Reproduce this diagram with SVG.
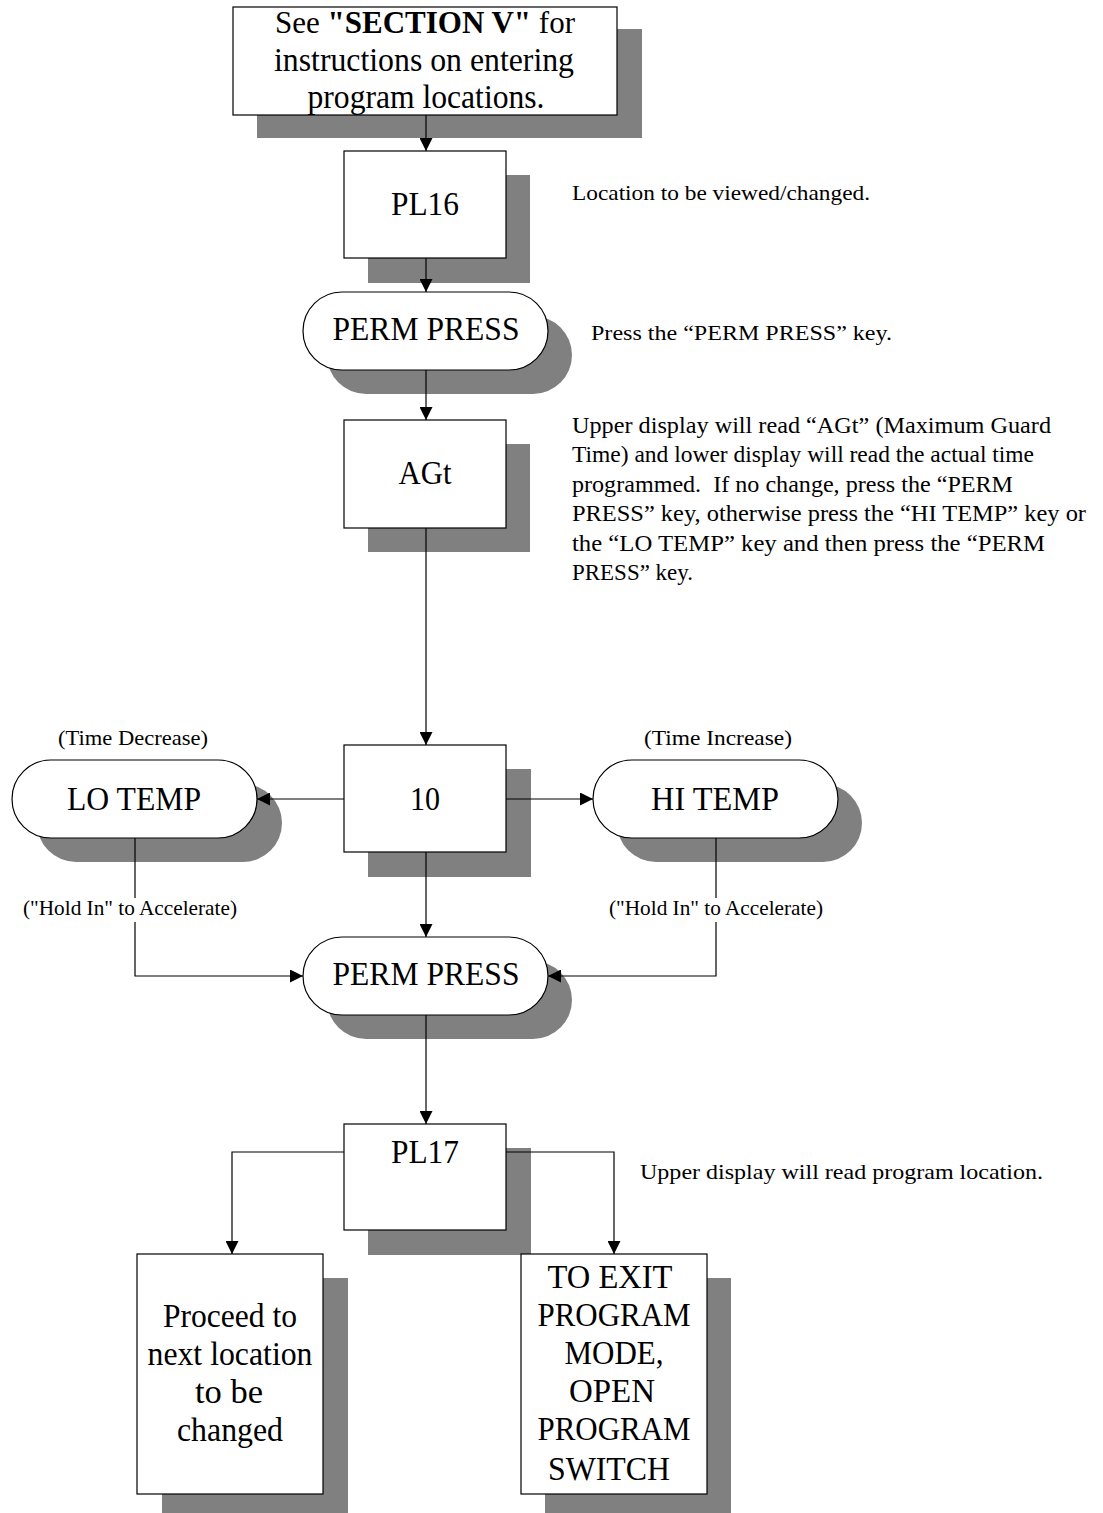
<svg xmlns="http://www.w3.org/2000/svg" width="1103" height="1513" viewBox="0 0 1103 1513">
<style>
.sh{fill:#808080;stroke:none}
.nd{fill:#fff;stroke:#000;stroke-width:1.2}
.t{font-family:"Liberation Serif","Times New Roman",serif;fill:#000}
.big{font-size:33px;text-anchor:middle}
.note{font-size:22px}
.para{font-size:24px}
.lbl{font-size:22px;text-anchor:middle}
.c{fill:none;stroke:#000;stroke-width:1.2}
</style>
<defs>
<marker id="ah" viewBox="0 0 13 13" refX="13" refY="6.5" markerWidth="13" markerHeight="13" markerUnits="userSpaceOnUse" orient="auto">
<path d="M0,0 L13,6.5 L0,13 Z" fill="#000"/>
</marker>
</defs>
<rect width="1103" height="1513" fill="#fff"/>

<g id="n-section">
<rect class="sh" x="257" y="29" width="385" height="109"/>
<rect class="nd" x="233" y="7" width="384" height="108"/>
<text class="t" x="425" y="33" font-size="31" text-anchor="middle">See <tspan font-weight="bold">"SECTION V"</tspan> for</text>
<text class="t big" x="424" y="71" textLength="300" lengthAdjust="spacingAndGlyphs">instructions on entering</text>
<text class="t big" x="426" y="108" textLength="237" lengthAdjust="spacingAndGlyphs">program locations.</text>
</g>

<g id="n-pl16">
<rect class="sh" x="368" y="175" width="162" height="108"/>
<rect class="nd" x="344" y="151" width="162" height="107"/>
<text class="t big" x="425" y="215" textLength="68" lengthAdjust="spacingAndGlyphs">PL16</text>
</g>
<text class="t note" x="572" y="200" textLength="298" lengthAdjust="spacingAndGlyphs">Location to be viewed/changed.</text>

<g id="n-perm1">
<rect class="sh" x="327" y="316" width="245" height="78" rx="39"/>
<rect class="nd" x="303" y="292" width="245" height="78" rx="39"/>
<text class="t big" x="426" y="340" textLength="187" lengthAdjust="spacingAndGlyphs">PERM PRESS</text>
</g>
<text class="t note" x="591" y="340" textLength="301" lengthAdjust="spacingAndGlyphs">Press the “PERM PRESS” key.</text>

<g id="n-agt">
<rect class="sh" x="368" y="444" width="162" height="108"/>
<rect class="nd" x="344" y="420" width="162" height="108"/>
<text class="t big" x="425" y="484" textLength="53" lengthAdjust="spacingAndGlyphs">AGt</text>
</g>
<g id="note-agt">
<text class="t para" x="572" y="433" textLength="479" lengthAdjust="spacingAndGlyphs">Upper display will read “AGt” (Maximum Guard</text>
<text class="t para" x="572" y="462" textLength="462" lengthAdjust="spacingAndGlyphs">Time) and lower display will read the actual time</text>
<text class="t para" x="572" y="492" textLength="441" lengthAdjust="spacingAndGlyphs" xml:space="preserve">programmed.  If no change, press the “PERM</text>
<text class="t para" x="572" y="521" textLength="514" lengthAdjust="spacingAndGlyphs">PRESS” key, otherwise press the “HI TEMP” key or</text>
<text class="t para" x="572" y="551" textLength="473" lengthAdjust="spacingAndGlyphs">the “LO TEMP” key and then press the “PERM</text>
<text class="t para" x="572" y="580" textLength="121" lengthAdjust="spacingAndGlyphs">PRESS” key.</text>
</g>

<g id="n-10">
<rect class="sh" x="368" y="769" width="163" height="108"/>
<rect class="nd" x="344" y="745" width="162" height="107"/>
<text class="t big" x="425" y="810" textLength="30" lengthAdjust="spacingAndGlyphs">10</text>
</g>

<g id="n-lotemp">
<rect class="sh" x="37" y="784" width="245" height="78" rx="39"/>
<rect class="nd" x="12" y="760" width="245" height="78" rx="39"/>
<text class="t big" x="134" y="810" textLength="134" lengthAdjust="spacingAndGlyphs">LO TEMP</text>
</g>
<text class="t lbl" x="133" y="745" textLength="150" lengthAdjust="spacingAndGlyphs">(Time Decrease)</text>
<text class="t lbl" x="130" y="915" textLength="214" lengthAdjust="spacingAndGlyphs">("Hold In" to Accelerate)</text>

<g id="n-hitemp">
<rect class="sh" x="617" y="784" width="245" height="78" rx="39"/>
<rect class="nd" x="593" y="760" width="245" height="78" rx="39"/>
<text class="t big" x="715" y="810" textLength="128" lengthAdjust="spacingAndGlyphs">HI TEMP</text>
</g>
<text class="t lbl" x="718" y="745" textLength="148" lengthAdjust="spacingAndGlyphs">(Time Increase)</text>
<text class="t lbl" x="716" y="915" textLength="214" lengthAdjust="spacingAndGlyphs">("Hold In" to Accelerate)</text>

<g id="n-perm2">
<rect class="sh" x="327" y="961" width="245" height="78" rx="39"/>
<rect class="nd" x="303" y="937" width="245" height="78" rx="39"/>
<text class="t big" x="426" y="985" textLength="187" lengthAdjust="spacingAndGlyphs">PERM PRESS</text>
</g>

<g id="n-pl17">
<rect class="sh" x="368" y="1148" width="163" height="107"/>
<rect class="nd" x="344" y="1124" width="162" height="106"/>
<text class="t big" x="425" y="1163" textLength="68" lengthAdjust="spacingAndGlyphs">PL17</text>
</g>
<text class="t note" x="640" y="1179" textLength="403" lengthAdjust="spacingAndGlyphs">Upper display will read program location.</text>

<g id="n-proceed">
<rect class="sh" x="162" y="1278" width="186" height="240"/>
<rect class="nd" x="137" y="1254" width="186" height="240"/>
<text class="t big" x="230" y="1327" textLength="134" lengthAdjust="spacingAndGlyphs">Proceed to</text>
<text class="t big" x="230" y="1365" textLength="165" lengthAdjust="spacingAndGlyphs">next location</text>
<text class="t big" x="229" y="1403" textLength="68" lengthAdjust="spacingAndGlyphs">to be</text>
<text class="t big" x="230" y="1441" textLength="106" lengthAdjust="spacingAndGlyphs">changed</text>
</g>

<g id="n-exit">
<rect class="sh" x="545" y="1278" width="186" height="240"/>
<rect class="nd" x="521" y="1254" width="186" height="240"/>
<text class="t big" x="610" y="1288" textLength="125" lengthAdjust="spacingAndGlyphs">TO EXIT</text>
<text class="t big" x="614" y="1326" textLength="153" lengthAdjust="spacingAndGlyphs">PROGRAM</text>
<text class="t big" x="614" y="1364" textLength="99" lengthAdjust="spacingAndGlyphs">MODE,</text>
<text class="t big" x="612" y="1402" textLength="86" lengthAdjust="spacingAndGlyphs">OPEN</text>
<text class="t big" x="614" y="1440" textLength="153" lengthAdjust="spacingAndGlyphs">PROGRAM</text>
<text class="t big" x="609" y="1480" textLength="122" lengthAdjust="spacingAndGlyphs">SWITCH</text>
</g>

<g id="connectors">
<line class="c" x1="426" y1="115" x2="426" y2="151" marker-end="url(#ah)"/>
<line class="c" x1="426" y1="258" x2="426" y2="292" marker-end="url(#ah)"/>
<line class="c" x1="426" y1="370" x2="426" y2="420" marker-end="url(#ah)"/>
<line class="c" x1="426" y1="528" x2="426" y2="745" marker-end="url(#ah)"/>
<line class="c" x1="344" y1="799" x2="257" y2="799" marker-end="url(#ah)"/>
<line class="c" x1="506" y1="799" x2="593" y2="799" marker-end="url(#ah)"/>
<line class="c" x1="426" y1="852" x2="426" y2="937" marker-end="url(#ah)"/>
<line class="c" x1="135" y1="838" x2="135" y2="898"/>
<polyline class="c" points="135,922 135,976 303,976" marker-end="url(#ah)"/>
<line class="c" x1="716" y1="838" x2="716" y2="898"/>
<polyline class="c" points="716,922 716,976 548,976" marker-end="url(#ah)"/>
<line class="c" x1="426" y1="1015" x2="426" y2="1124" marker-end="url(#ah)"/>
<polyline class="c" points="344,1152 232,1152 232,1254" marker-end="url(#ah)"/>
<polyline class="c" points="506,1152 614,1152 614,1254" marker-end="url(#ah)"/>
</g>
</svg>
